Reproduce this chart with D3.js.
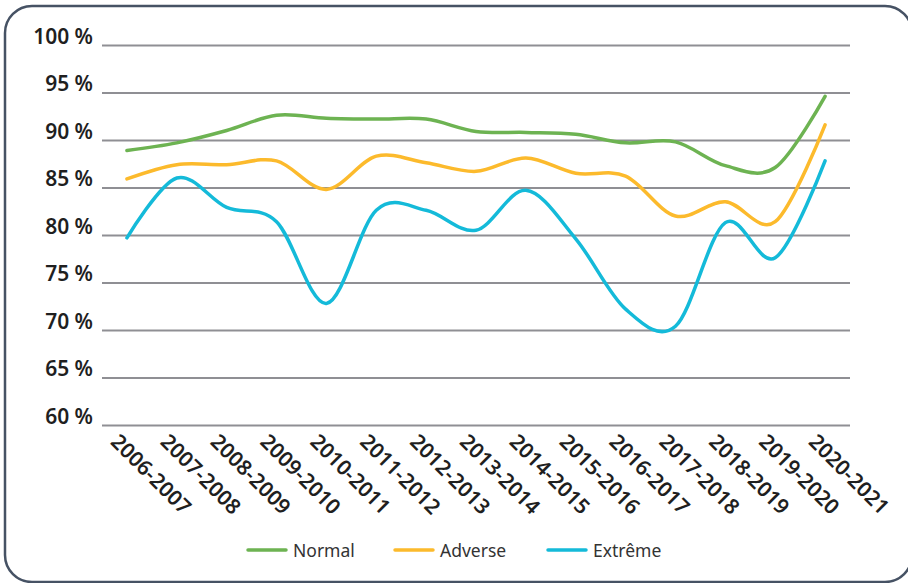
<!DOCTYPE html>
<html>
<head>
<meta charset="utf-8">
<script src="https://cdn.jsdelivr.net/npm/d3@7"></script>
<style>
  body { margin: 0; background: #fff; }
  svg { display: block; }
</style>
</head>
<body>
<div id="chart"></div>
<script>
// seasons on the x axis
var seasons = ["2006-2007", "2007-2008", "2008-2009", "2009-2010", "2010-2011",
  "2011-2012", "2012-2013", "2013-2014", "2014-2015", "2015-2016",
  "2016-2017", "2017-2018", "2018-2019", "2019-2020", "2020-2021"];

// values in %
var normal = [88.9, 89.7, 91.0, 92.6, 92.3, 92.2, 92.2, 90.9, 90.8, 90.6, 89.7, 89.8, 87.3, 87.1, 94.6];
var adverse = [85.9, 87.4, 87.4, 87.8, 84.8, 88.3, 87.6, 86.7, 88.1, 86.5, 86.2, 82.0, 83.5, 81.4, 91.6];
var extreme = [79.7, 86.0, 82.9, 81.4, 72.8, 82.6, 82.6, 80.5, 84.7, 79.6, 72.2, 70.4, 81.3, 77.6, 87.8];

var yTicks = [60, 65, 70, 75, 80, 85, 90, 95, 100];

var seriesNames = ["Normal", "Adverse", "Extrême"];
var seriesColors = ["#6db352", "#fcba2c", "#14bad9"];

var W = 908, H = 583;
var svg = d3.select("#chart").append("svg")
  .attr("width", W)
  .attr("height", H);

// rounded frame
svg.append("rect").attr("x", 5).attr("y", 6)
  .attr("width", 907).attr("height", 576)
  .attr("rx", 27).attr("ry", 27)
  .attr("fill", "#fff")
  .attr("stroke", "#465264")
  .attr("stroke-width", 2.5);

var x = d3.scalePoint().domain(seasons).range([102, 850]).padding(0.5);
var y = d3.scaleLinear().domain([60, 100]).range([425, 45]);

// grid lines
var yAxis = d3.axisLeft(y).tickValues(yTicks).tickSize(-(850 - 102))
  .tickPadding(9).tickFormat(function(d) { return d + " %"; });
var gy = svg.append("g").attr("transform", "translate(102,0)").call(yAxis);
gy.select(".domain").remove();
gy.selectAll(".tick line").attr("stroke", "#8f8f94").attr("stroke-width", 2);
gy.selectAll(".tick text")
  .attr("font-family", "'Noto Sans', sans-serif")
  .attr("font-size", 21)
  .attr("font-weight", 600)
  .attr("fill", "#1f1f1f")
  .attr("dy", "-0.08em");

// x labels, rotated
var xAxis = d3.axisBottom(x).tickSize(0).tickPadding(0);
var gx = svg.append("g").attr("transform", "translate(0,425)").call(xAxis);
gx.select(".domain").remove();
gx.selectAll(".tick text")
  .attr("font-family", "'Noto Sans', sans-serif")
  .attr("font-size", 21)
  .attr("font-weight", 600)
  .attr("fill", "#1f1f1f")
  .attr("text-anchor", "start")
  .attr("dy", 0)
  .attr("y", 0)
  .attr("transform", "translate(-18,18) rotate(45)");

// lines
var line = d3.line()
  .x(function(d, i) { return x(seasons[i]); })
  .y(function(d) { return y(d); })
  .curve(d3.curveCardinal.tension(0));

[normal, adverse, extreme].forEach(function(vals, k) {
  svg.append("path")
    .datum(vals)
    .attr("fill", "none")
    .attr("stroke", seriesColors[k])
    .attr("stroke-width", 3.5)
    .attr("stroke-linecap", "round")
    .attr("d", line);
});

// legend
var legendX = [248, 395, 548];
var legend = svg.append("g");
seriesNames.forEach(function(name, k) {
  var g = legend.append("g").attr("transform", "translate(" + legendX[k] + ",550)");
  g.append("line").attr("x1", 0).attr("x2", 38)
    .attr("stroke", seriesColors[k]).attr("stroke-width", 3.5)
    .attr("stroke-linecap", "round");
  g.append("text").attr("x", 45).attr("y", 6.5)
    .attr("font-family", "'Noto Sans', sans-serif")
    .attr("font-size", 17.5)
    .attr("fill", "#333")
    .text(name);
});
</script>
</body>
</html>
